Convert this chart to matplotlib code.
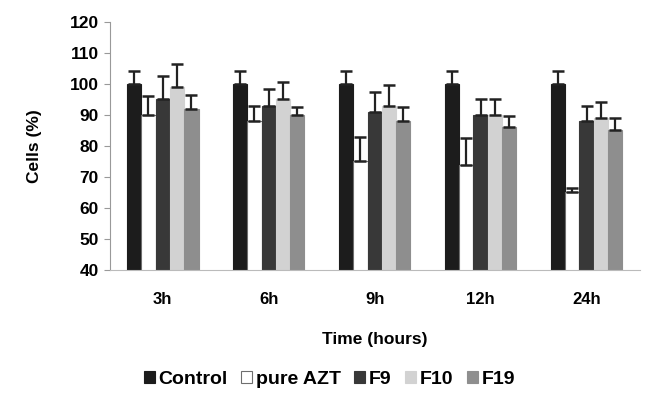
import matplotlib
matplotlib.use('Agg')
import matplotlib.pyplot as plt
import numpy as np

plt.rcParams['font.family'] = ['Liberation Sans', 'DejaVu Sans']
plt.rcParams['font.weight'] = 'bold'

times = ['3h', '6h', '9h', '12h', '24h']
series = ['Control', 'pure AZT', 'F9', 'F10', 'F19']
control = [100, 100, 100, 100, 100]
control_err = [4, 4, 4, 4, 4]
pure_azt = [90, 88, 75, 74, 65]
pure_azt_err = [6, 5, 8, 8.5, 1.5]
f9 = [95, 93, 91, 90, 88]
f9_err = [7.5, 5.5, 6.5, 5, 5]
f10 = [99, 95, 93, 90, 89]
f10_err = [7.5, 5.5, 6.5, 5, 5]
f19 = [92, 90, 88, 86, 85]
f19_err = [4.5, 2.5, 4.5, 3.5, 4]

values = [control, pure_azt, f9, f10, f19]
errors = [control_err, pure_azt_err, f9_err, f10_err, f19_err]
colors = ['#1c1c1c', '#ffffff', '#383838', '#d2d2d2', '#8e8e8e']
edges = ['#1c1c1c', '#6e6e6e', '#383838', '#d2d2d2', '#8e8e8e']

fig = plt.figure(figsize=(6.46, 3.97), dpi=100)
ax = fig.add_axes([0.17, 0.32, 0.82, 0.625])

x = np.arange(len(times))
w = 0.135
for i in range(len(series)):
    pos = x + (i - 2) * w
    ax.bar(pos, values[i], w, bottom=0, color=colors[i], edgecolor=edges[i],
           linewidth=0.8, label=series[i], zorder=2)
    ax.errorbar(pos, values[i], yerr=[np.zeros(len(times)), errors[i]], fmt='none',
                ecolor='#222222', elinewidth=1.6, capsize=4, capthick=1.8, zorder=3)

ax.set_ylim(40, 120)
ax.set_xlim(-0.5, 4.5)
ax.set_yticks(range(40, 121, 10))
ax.set_xticks(x)
ax.set_xticklabels(times)
ax.tick_params(axis='y', length=4, color='#999999', labelsize=12.5, pad=4)
ax.tick_params(axis='x', length=0, labelsize=12, pad=16)
for s in ['top', 'right']:
    ax.spines[s].set_visible(False)
ax.spines['left'].set_color('#999999')
ax.spines['bottom'].set_color('#bbbbbb')
ax.set_ylabel('Cells (%)', fontsize=12.5, fontweight='bold', labelpad=20)
ax.set_xlabel('Time (hours)', fontsize=12.5, fontweight='bold', labelpad=18)

handles, labels = ax.get_legend_handles_labels()
leg = fig.legend(handles, labels, loc='center', bbox_to_anchor=(0.51, 0.045), ncol=5,
                 frameon=False, fontsize=14, handlelength=0.55, handleheight=0.55,
                 handletextpad=0.2, columnspacing=0.7)

fig.savefig('out.png', dpi=100)
